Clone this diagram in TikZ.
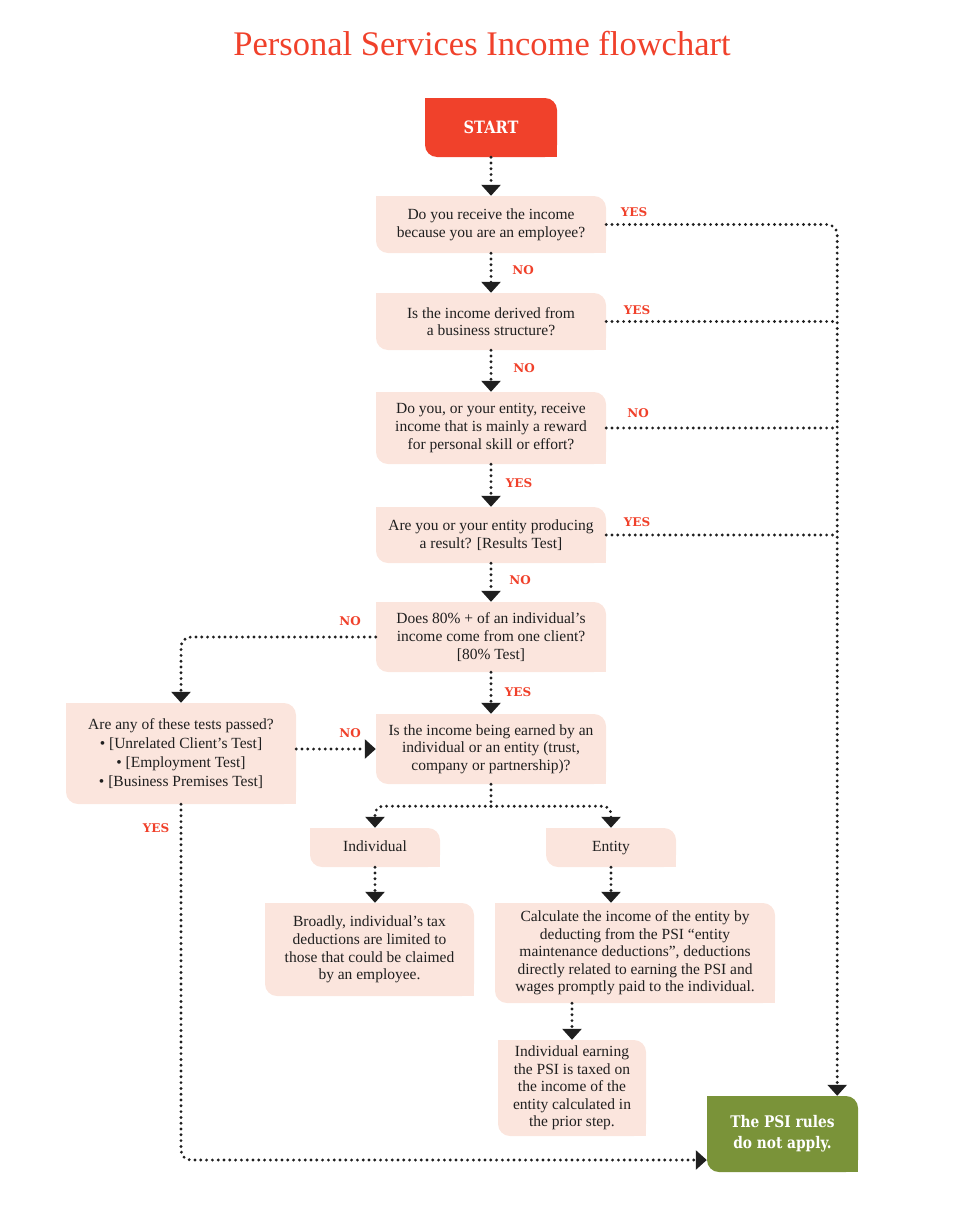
\documentclass[tikz,border=0pt]{standalone}
\usepackage{fontspec}
\setmainfont{Liberation Serif}
\newfontfamily\slabfont{DejaVu Serif}
\newfontfamily\slabnarrow{DejaVu Serif}[FakeStretch=0.86]
\usetikzlibrary{arrows.meta,calc}
\tikzset{>={Triangle[width=19pt,length=11pt]}}
\definecolor{psired}{HTML}{F0412B}
\definecolor{psipink}{HTML}{FBE5DD}
\definecolor{psigreen}{HTML}{7A9339}
\colorlet{psiink}{black!88}
\tikzset{
  leaf/.style={rectangle, inner sep=0pt, align=center, text=psiink,
    font=\fontsize{15.5}{17.6}\selectfont,
    path picture={
      \fill[#1,rounded corners=12pt] (path picture bounding box.south west) rectangle (path picture bounding box.north east);
      \fill[#1] (path picture bounding box.north west) rectangle ++(12pt,-12pt);
      \fill[#1] (path picture bounding box.south east) rectangle ++(-12pt,12pt);
    }},
  leaf/.default=psipink,
  dots/.style={psiink, line width=3.2pt, line cap=round, dash pattern=on 0pt off 5.8pt},
  link/.style={dots,->},
  answer/.style={font=\slabfont\bfseries\fontsize{12}{12}\selectfont, text=psired},
}

\begin{document}
\begin{tikzpicture}[x=1pt,y=-1pt]
    \useasboundingbox (0,0) rectangle (970,1210);
    \node[font=\fontsize{34.5}{34.5}\selectfont, text=psired] (title) at (482,44) {Personal Services Income flowchart};

    % question column
    \node[leaf=psired, minimum width=132pt, minimum height=59pt, text=white,
          font=\slabnarrow\bfseries\fontsize{17}{17}\selectfont] (start) at (491,127.5) {START};
    \node[leaf, minimum width=230pt, minimum height=57pt] (q1) at (491,224.5) {Do you receive the income\\because you are an employee?};
    \node[leaf, minimum width=230pt, minimum height=57pt] (q2) at (491,321.5) {Is the income derived from\\a business structure?};
    \node[leaf, minimum width=230pt, minimum height=72pt] (q3) at (491,428) {Do you, or your entity, receive\\income that is mainly a reward\\for personal skill or effort?};
    \node[leaf, minimum width=230pt, minimum height=56pt] (q4) at (491,535) {Are you or your entity producing\\a result? [Results Test]};
    \node[leaf, minimum width=230pt, minimum height=70pt] (q5) at (491,637) {Does 80\% + of an individual’s\\income come from one client?\\{}[80\% Test]};
    \node[leaf, minimum width=230pt, minimum height=70pt] (q6) at (491,749) {Is the income being earned by an\\individual or an entity (trust,\\company or partnership)?};
    \node[leaf, minimum width=230pt, minimum height=101pt, font=\fontsize{15.5}{19}\selectfont] (tests) at (181,753.5) {Are any of these tests passed?\\\textbullet{} [Unrelated Client’s Test]\\\textbullet{} [Employment Test]\\\textbullet{} [Business Premises Test]};

    % individual / entity branch
    \node[leaf, minimum width=130pt, minimum height=39pt, text height=11pt, text depth=4pt] (indiv) at (375,847.5) {Individual};
    \node[leaf, minimum width=130pt, minimum height=39pt, text height=11pt, text depth=4pt] (entity) at (611,847.5) {Entity};
    \node[leaf, minimum width=209pt, minimum height=93pt] (broadly) at (369.5,949.5) {Broadly, individual’s tax\\deductions are limited to\\those that could be claimed\\by an employee.};
    \node[leaf, minimum width=280pt, minimum height=100pt] (calc) at (635,953) {Calculate the income of the entity by\\deducting from the PSI “entity\\maintenance deductions”, deductions\\directly related to earning the PSI and\\wages promptly paid to the individual.};
    \node[leaf, minimum width=148pt, minimum height=96pt] (earn) at (572,1088) {Individual earning\\the PSI is taxed on\\the income of the\\entity calculated in\\the prior step.};
    \node[leaf=psigreen, minimum width=151pt, minimum height=76pt, text=white,
          font=\slabnarrow\bfseries\fontsize{16}{21}\selectfont] (psi) at (782.5,1134) {The PSI rules\\do not apply.};

    \coordinate (rail) at ([xshift=-21pt]psi.north east);
    \coordinate (fork) at ($(q6.south)+(0,22)$);

    % main column arrows
    \draw[link] (start) -- (q1);
    \draw[link] (q1) -- (q2);
    \draw[link] (q2) -- (q3);
    \draw[link] (q3) -- (q4);
    \draw[link] (q4) -- (q5);
    \draw[link] (q5) -- (q6);

    % right-hand rail to the PSI box
    \draw[link, rounded corners=10pt] (q1.east) -| (rail);
    \draw[dots] (q2.east) -- (q2.east -| rail);
    \draw[dots] (q3.east) -- (q3.east -| rail);
    \draw[dots] (q4.east) -- (q4.east -| rail);

    % left-hand tests loop
    \draw[link, rounded corners=10pt] (q5.west) -| (tests.north);
    \draw[link] (tests.east |- q6) -- (q6.west);
    \draw[link, rounded corners=10pt] (tests.south) |- ([yshift=-26pt]psi.west);

    % fork to individual and entity
    \draw[dots] (q6.south) -- (fork);
    \draw[link, rounded corners=8pt] (fork) -| (indiv.north);
    \draw[link, rounded corners=8pt] (fork) -| (entity.north);
    \draw[link] (indiv.south) -- (indiv.south |- broadly.north);
    \draw[link] (entity.south) -- (entity.south |- calc.north);
    \draw[link] (calc.south -| earn.north) -- (earn.north);

    % answers
    \node[answer] (a1) at (634,212) {YES};
    \node[answer] (a2) at (523,270) {NO};
    \node[answer] (a3) at (637,310) {YES};
    \node[answer] (a4) at (524,368) {NO};
    \node[answer] (a5) at (638,413) {NO};
    \node[answer] (a6) at (519,483) {YES};
    \node[answer] (a7) at (637,522) {YES};
    \node[answer] (a8) at (520,580) {NO};
    \node[answer] (a9) at (350,621) {NO};
    \node[answer] (a10) at (518,692) {YES};
    \node[answer] (a11) at (350,733) {NO};
    \node[answer] (a12) at (156,828) {YES};
\end{tikzpicture}
\end{document}
